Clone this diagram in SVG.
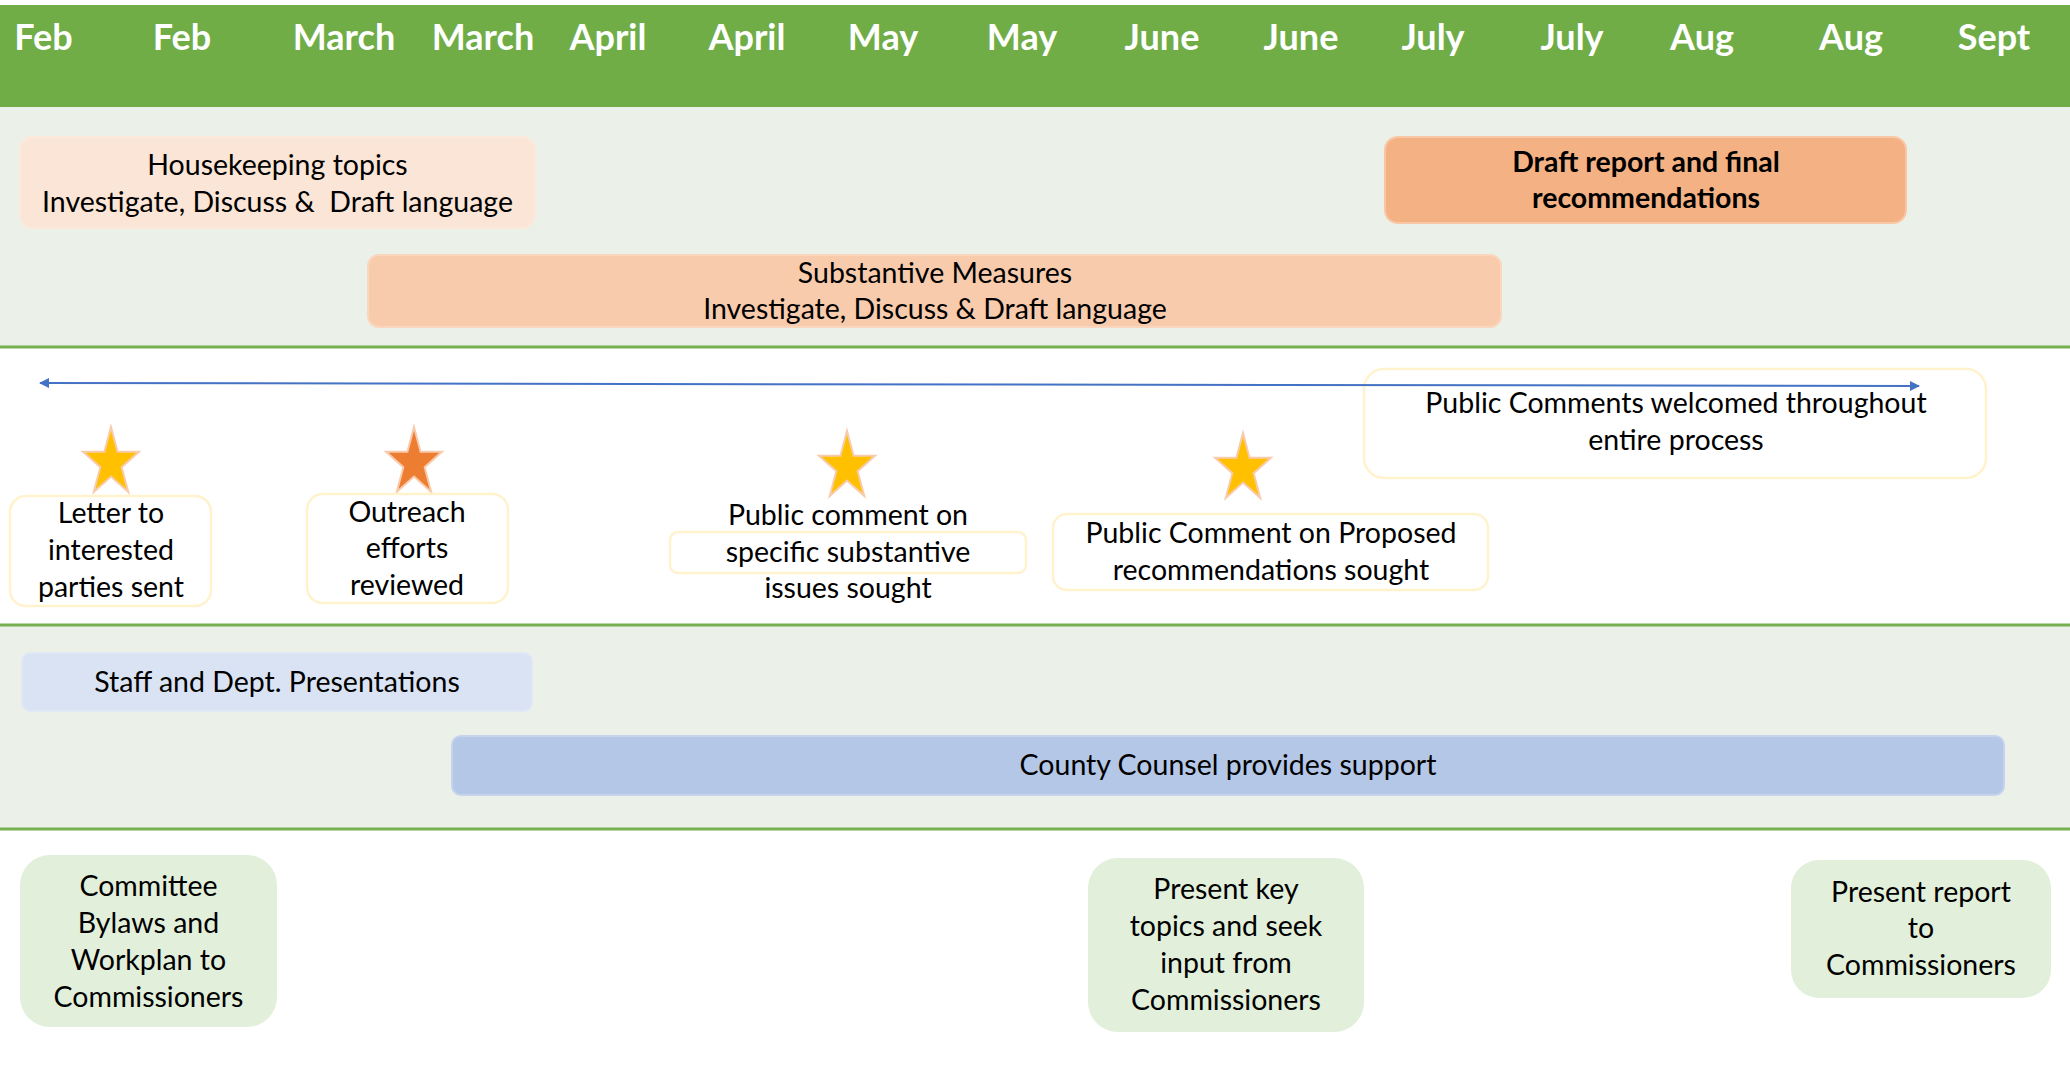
<svg xmlns="http://www.w3.org/2000/svg" width="2070" height="1065" viewBox="0 0 2070 1065">
<style>
.month{font-family:Lato,"Liberation Sans",sans-serif;font-weight:bold;font-size:36px;fill:#fff;text-anchor:middle}
.t{font-family:Lato,"Liberation Sans",sans-serif;font-size:28.5px;fill:#000;text-anchor:middle}
.b{font-weight:bold}
.sep{stroke:#76B04F;stroke-width:3}
.band{fill:#EBF0E8}
.cb{fill:#fff;stroke:#FFF2CC;stroke-width:2.5}
.star{stroke:#F8CBAD;stroke-width:2;stroke-linejoin:miter}
</style>
<defs>
<marker id="ah" viewBox="0 0 10 10" refX="9" refY="5" markerWidth="5" markerHeight="5" orient="auto-start-reverse" markerUnits="strokeWidth">
<path d="M0,0 L10,5 L0,10 Z" fill="#4472C4"/>
</marker>
<polygon id="starShape" points="0,0 6.6,24.81 27.96,24.81 10.67,40.14 17.29,64.94 0,49.61 -17.29,64.94 -10.67,40.14 -27.96,24.81 -6.6,24.81"/>
</defs>
<rect x="0" y="0" width="2070" height="1065" fill="#fff"/>
<g id="header">
<rect x="0" y="5" width="2070" height="102" fill="#70AD47"/>
<text class="month" x="43.5" y="50">Feb</text>
<text class="month" x="182" y="50">Feb</text>
<text class="month" x="344" y="50">March</text>
<text class="month" x="483" y="50">March</text>
<text class="month" x="608" y="50">April</text>
<text class="month" x="747" y="50">April</text>
<text class="month" x="883" y="50">May</text>
<text class="month" x="1022" y="50">May</text>
<text class="month" x="1162" y="50">June</text>
<text class="month" x="1301" y="50">June</text>
<text class="month" x="1433" y="50">July</text>
<text class="month" x="1572" y="50">July</text>
<text class="month" x="1702" y="50">Aug</text>
<text class="month" x="1851" y="50">Aug</text>
<text class="month" x="1994" y="50">Sept</text>
</g>
<g id="bands">
<rect class="band" x="0" y="107" width="2070" height="240"/>
<rect class="band" x="0" y="625" width="2070" height="204"/>
<line class="sep" x1="0" y1="347" x2="2070" y2="347"/>
<line class="sep" x1="0" y1="625" x2="2070" y2="625"/>
<line class="sep" x1="0" y1="829" x2="2070" y2="829"/>
</g>
<g id="housekeeping">
<rect x="20" y="137" width="515" height="91" rx="13" fill="#FBE5D6" stroke="#FCE9DC" stroke-width="2"/>
<text class="t" x="277.5" y="175">Housekeeping topics</text>
<text class="t" x="277.5" y="212" xml:space="preserve">Investigate, Discuss &amp;  Draft language</text>
</g>
<g id="draft-report">
<rect x="1385" y="137" width="521" height="86" rx="13" fill="#F4B183" stroke="#F8C8A6" stroke-width="2"/>
<text class="t b" x="1646" y="172">Draft report and final</text>
<text class="t b" x="1646" y="208">recommendations</text>
</g>
<g id="substantive">
<rect x="368" y="255" width="1133" height="72" rx="11" fill="#F8CBAD" stroke="#FAD6BE" stroke-width="2"/>
<text class="t" x="935" y="283">Substantive Measures</text>
<text class="t" x="935" y="319">Investigate, Discuss &amp; Draft language</text>
</g>
<g id="public-comments-welcomed">
<rect class="cb" x="1364" y="369" width="622" height="109" rx="20"/>
<text class="t" x="1676" y="413">Public Comments welcomed throughout</text>
<text class="t" x="1676" y="450">entire process</text>
</g>
<g id="star-letter">
<use href="#starShape" class="star" fill="#FFC000" transform="translate(111,427)"/>
</g>
<g id="letter">
<rect class="cb" x="10" y="496" width="201" height="110" rx="16"/>
<text class="t" x="111" y="523">Letter to</text>
<text class="t" x="111" y="560">interested</text>
<text class="t" x="111" y="597">parties sent</text>
</g>
<g id="star-outreach">
<use href="#starShape" class="star" fill="#ED7D31" transform="translate(414,427)"/>
</g>
<g id="outreach">
<rect class="cb" x="307" y="494" width="201" height="109" rx="16"/>
<text class="t" x="407" y="522">Outreach</text>
<text class="t" x="407" y="558">efforts</text>
<text class="t" x="407" y="595">reviewed</text>
</g>
<g id="star-specific">
<use href="#starShape" class="star" fill="#FFC000" transform="translate(847,431)"/>
</g>
<g id="public-comment-specific">
<rect class="cb" x="670" y="532" width="356" height="41" rx="8"/>
<text class="t" x="848" y="525">Public comment on</text>
<text class="t" x="848" y="562">specific substantive</text>
<text class="t" x="848" y="598">issues sought</text>
</g>
<g id="star-proposed">
<use href="#starShape" class="star" fill="#FFC000" transform="translate(1243,433)"/>
</g>
<g id="public-comment-proposed">
<rect class="cb" x="1053" y="514" width="435" height="76" rx="14"/>
<text class="t" x="1271" y="543">Public Comment on Proposed</text>
<text class="t" x="1271" y="580">recommendations sought</text>
</g>
<g id="staff">
<rect x="22" y="653" width="510" height="58" rx="8" fill="#DAE3F3" stroke="#E1E8F5" stroke-width="2"/>
<text class="t" x="277" y="692">Staff and Dept. Presentations</text>
</g>
<g id="county-counsel">
<rect x="452" y="736" width="1552" height="59" rx="9" fill="#B4C7E7" stroke="#C5D4EC" stroke-width="2"/>
<text class="t" x="1228" y="775">County Counsel provides support</text>
</g>
<g id="committee">
<rect x="20" y="855" width="257" height="172" rx="30" fill="#E2EFDA"/>
<text class="t" x="148.5" y="896">Committee</text>
<text class="t" x="148.5" y="933">Bylaws and</text>
<text class="t" x="148.5" y="970">Workplan to</text>
<text class="t" x="148.5" y="1007">Commissioners</text>
</g>
<g id="present-key">
<rect x="1088" y="858" width="276" height="174" rx="30" fill="#E2EFDA"/>
<text class="t" x="1226" y="899">Present key</text>
<text class="t" x="1226" y="936">topics and seek</text>
<text class="t" x="1226" y="973">input from</text>
<text class="t" x="1226" y="1010">Commissioners</text>
</g>
<g id="present-report">
<rect x="1791" y="860" width="260" height="138" rx="28" fill="#E2EFDA"/>
<text class="t" x="1921" y="902">Present report</text>
<text class="t" x="1921" y="938">to</text>
<text class="t" x="1921" y="975">Commissioners</text>
</g>
<g id="connectors">
<line x1="40" y1="383" x2="1919" y2="386" stroke="#4472C4" stroke-width="2" marker-start="url(#ah)" marker-end="url(#ah)"/>
</g>
</svg>
